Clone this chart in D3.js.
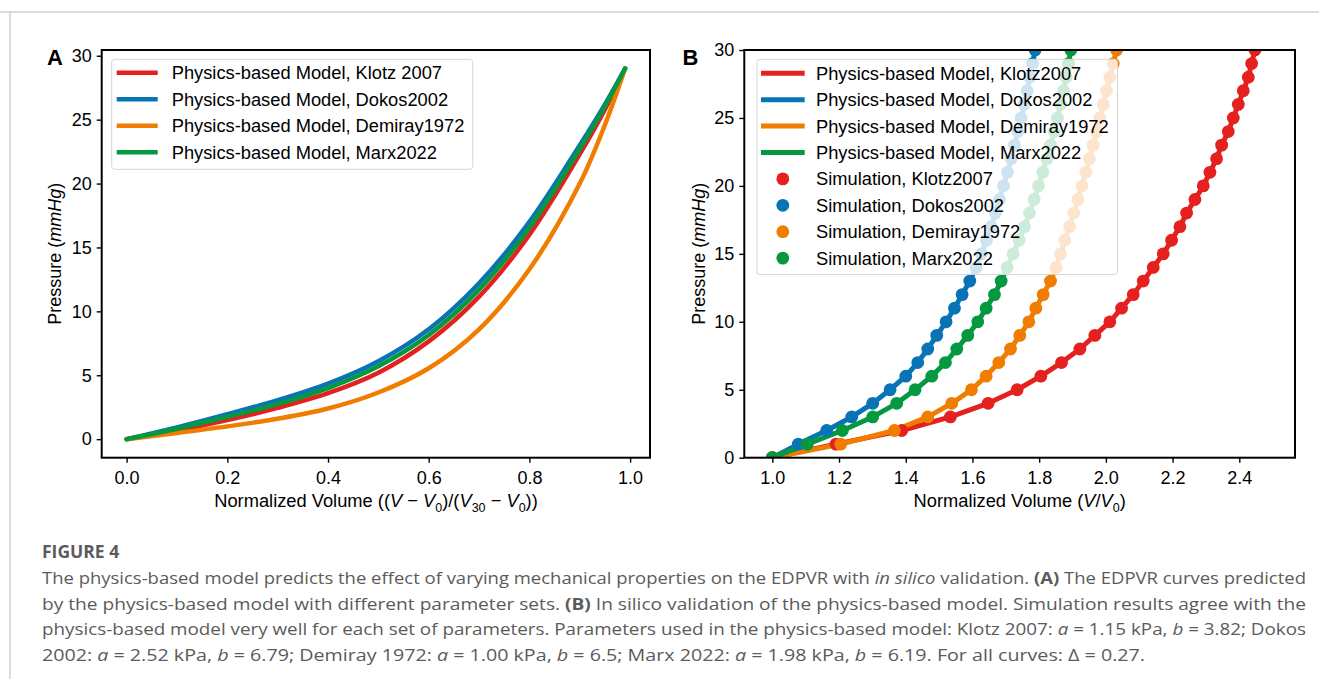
<!DOCTYPE html>
<html>
<head>
<meta charset="utf-8">
<script src="https://cdn.jsdelivr.net/npm/d3@7/dist/d3.min.js"></script>
<style>
  html, body { margin: 0; padding: 0; background: #fff; }
  svg { display: block; }
</style>
</head>
<body>
<svg id="fig" width="1319" height="679"></svg>
<script>
"use strict";

// Panel A: normalized volume vs pressure (model curves)
const normVol = [0, 0.1, 0.2, 0.3, 0.4, 0.5, 0.6, 0.7, 0.8, 0.9, 0.95, 0.99];
const modelKlotz   = [0, 0.68, 1.5, 2.45, 3.6, 5.2, 7.65, 11.15, 16.0, 22.3, 25.8, 29.0];
const modelDokos   = [0, 0.92, 1.95, 3.05, 4.35, 6.1, 8.6, 12.2, 17.0, 23.0, 26.2, 29.0];
const modelDemiray = [0, 0.48, 1.0, 1.6, 2.4, 3.65, 5.55, 8.6, 13.3, 20.0, 24.6, 29.0];
const modelMarx    = [0, 0.82, 1.75, 2.75, 4.0, 5.7, 8.15, 11.7, 16.55, 22.7, 26.05, 29.0];

// Panel B: simulated pressure steps and V/V0
const pressureSteps = d3.range(0, 31);
const simKlotz = [1.0, 1.191, 1.388, 1.534, 1.647, 1.734, 1.805, 1.867, 1.922, 1.967, 2.012,
  2.047, 2.082, 2.112, 2.142, 2.172, 2.197, 2.222, 2.242, 2.267, 2.292,
  2.312, 2.332, 2.347, 2.367, 2.382, 2.397, 2.412, 2.427, 2.437, 2.447];
const simDokos = [1.0, 1.078, 1.163, 1.238, 1.301, 1.353, 1.400, 1.436, 1.466, 1.493, 1.521,
  1.546, 1.569, 1.592, 1.611, 1.627, 1.642, 1.656, 1.669, 1.681, 1.693,
  1.705, 1.716, 1.726, 1.736, 1.746, 1.755, 1.764, 1.772, 1.780, 1.788];
const simDemiray = [1.0, 1.205, 1.366, 1.466, 1.538, 1.597, 1.641, 1.679, 1.714, 1.742, 1.769,
  1.790, 1.812, 1.834, 1.851, 1.864, 1.877, 1.891, 1.904, 1.916, 1.928,
  1.940, 1.951, 1.962, 1.972, 1.982, 1.992, 2.002, 2.012, 2.022, 2.032];
const simMarx = [1.0, 1.105, 1.210, 1.301, 1.373, 1.428, 1.478, 1.519, 1.553, 1.586, 1.616,
  1.641, 1.666, 1.686, 1.704, 1.722, 1.740, 1.756, 1.771, 1.785, 1.798,
  1.811, 1.823, 1.834, 1.845, 1.855, 1.864, 1.873, 1.881, 1.888, 1.895];

const seriesNames = ['Klotz', 'Dokos', 'Demiray', 'Marx'];
const legendA = ['Physics-based Model, Klotz 2007', 'Physics-based Model, Dokos2002',
  'Physics-based Model, Demiray1972', 'Physics-based Model, Marx2022'];
const legendB = ['Physics-based Model, Klotz2007', 'Physics-based Model, Dokos2002',
  'Physics-based Model, Demiray1972', 'Physics-based Model, Marx2022',
  'Simulation, Klotz2007', 'Simulation, Dokos2002', 'Simulation, Demiray1972', 'Simulation, Marx2022'];
const ticksAx = [0, 0.2, 0.4, 0.6, 0.8, 1.0];
const ticksBx = [1.0, 1.2, 1.4, 1.6, 1.8, 2.0, 2.2, 2.4];
const ticksY = [0, 5, 10, 15, 20, 25, 30];

const colors = { Klotz: '#e4211f', Dokos: '#0873b5', Demiray: '#f07c00', Marx: '#04993f' };
const modelA = { Klotz: modelKlotz, Dokos: modelDokos, Demiray: modelDemiray, Marx: modelMarx };
const simB = { Klotz: simKlotz, Dokos: simDokos, Demiray: simDemiray, Marx: simMarx };

const FONT = "'Liberation Sans', Arial, sans-serif";
const svg = d3.select('#fig');

// card border
svg.append('line').attr('x1', 0).attr('x2', 1319).attr('y1', 12).attr('y2', 12)
  .attr('stroke', '#cfcfcf').attr('stroke-width', 1.5);
svg.append('line').attr('x1', 10).attr('x2', 10).attr('y1', 12).attr('y2', 679)
  .attr('stroke', '#cfcfcf').attr('stroke-width', 1.5);

function frame(x0, x1, y0, y1, id) {
  svg.append('clipPath').attr('id', id).append('rect')
    .attr('x', x0).attr('y', y0).attr('width', x1 - x0).attr('height', y1 - y0);
}

function drawAxes(g, x, y, xTicks, xFmt) {
  const xa = g.append('g').attr('transform', 'translate(0,' + y.range()[0] + ')')
    .call(d3.axisBottom(x).tickValues(xTicks).tickFormat(xFmt).tickSize(5).tickPadding(9));
  const ya = g.append('g').attr('transform', 'translate(' + x.range()[0] + ',0)')
    .call(d3.axisLeft(y).tickValues(ticksY).tickFormat(d3.format('d')).tickSize(5).tickPadding(5));
  [xa, ya].forEach(a => {
    a.select('.domain').remove();
    a.attr('font-family', FONT).attr('font-size', 18);
    a.selectAll('.tick line').attr('stroke', '#000').attr('stroke-width', 1.4);
    a.selectAll('.tick text').attr('fill', '#000');
  });
  g.append('rect')
    .attr('x', x.range()[0]).attr('y', y.range()[1])
    .attr('width', x.range()[1] - x.range()[0]).attr('height', y.range()[0] - y.range()[1])
    .attr('fill', 'none').attr('stroke', '#000').attr('stroke-width', 2);
}

function yLabel(g, xPos, yPos) {
  const t = g.append('text')
    .attr('transform', 'translate(' + xPos + ',' + yPos + ') rotate(-90)')
    .attr('text-anchor', 'middle').attr('font-family', FONT).attr('font-size', '18px');
  t.append('tspan').text('Pressure (');
  t.append('tspan').attr('font-style', 'italic').text('mmHg');
  t.append('tspan').text(')');
}

function legendBox(g, x0, y0, w, h) {
  g.append('rect').attr('x', x0).attr('y', y0).attr('width', w).attr('height', h)
    .attr('rx', 3).attr('fill', '#fff').attr('fill-opacity', 0.8)
    .attr('stroke', '#d6d6d6').attr('stroke-width', 1);
}

function subLabel(t, parts) {
  parts.forEach(([s, st]) => {
    const ts = t.append('tspan').text(s);
    if (st === 'i') ts.attr('font-style', 'italic');
    if (st === 'sub') ts.attr('font-size', '12.5px').attr('dy', 4.5);
    if (st === 'up') ts.attr('dy', -4.5);
  });
}

// ---------- Panel A ----------
const xA = d3.scaleLinear().domain([-0.0495, 1.0395]).range([101.7, 650]);
const yA = d3.scaleLinear().domain([-1.45, 30.45]).range([457.7, 50]);
const gA = svg.append('g');
frame(101.7, 650, 50, 457.7, 'clipA');

const lineA = d3.line().x((d, i) => xA(normVol[i])).y(d => yA(d)).curve(d3.curveCatmullRom.alpha(0.5));
gA.append('g').attr('clip-path', 'url(#clipA)').selectAll('path')
  .data(seriesNames).enter().append('path')
  .attr('d', n => lineA(modelA[n]))
  .attr('fill', 'none').attr('stroke', n => colors[n]).attr('stroke-width', 4.5)
  .attr('stroke-linecap', 'round');

drawAxes(gA, xA, yA, ticksAx, d3.format('.1f'));

legendBox(gA, 111.7, 59.3, 361, 110);
legendA.forEach((label, i) => {
  const yy = 72.7 + i * 26.5;
  gA.append('line').attr('x1', 116.7).attr('x2', 157.7).attr('y1', yy).attr('y2', yy)
    .attr('stroke', colors[seriesNames[i]]).attr('stroke-width', 4.5);
  gA.append('text').attr('x', 171.7).attr('y', yy).attr('dy', '0.35em')
    .attr('font-family', FONT).attr('font-size', '18.3px').text(label);
});

yLabel(gA, 61, 253.8);
const xlA = gA.append('text').attr('x', 376).attr('y', 507).attr('text-anchor', 'middle')
  .attr('font-family', FONT).attr('font-size', '18.3px');
subLabel(xlA, [['Normalized Volume ((', ''], ['V', 'i'], [' \u2212 ', ''], ['V', 'i'], ['0', 'sub'],
  [')/(', 'up'], ['V', 'i'], ['30', 'sub'], [' \u2212 ', 'up'], ['V', 'i'], ['0', 'sub'], ['))', 'up']]);

svg.append('text').attr('x', 47).attr('y', 64.5).attr('font-family', FONT)
  .attr('font-weight', 'bold').attr('font-size', '22px').text('A');

// ---------- Panel B ----------
const xB = d3.scaleLinear().domain([0.916, 2.567]).range([744.3, 1295]);
const yB = d3.scaleLinear().domain([0, 30]).range([457.7, 50]);
const gB = svg.append('g');
frame(744.3, 1295, 50, 457.7, 'clipB');

const lineB = d3.line().x(d => xB(d)).y((d, i) => yB(pressureSteps[i]));
const plotB = gB.append('g').attr('clip-path', 'url(#clipB)');
plotB.selectAll('path').data(seriesNames).enter().append('path')
  .attr('d', n => lineB(simB[n]))
  .attr('fill', 'none').attr('stroke', n => colors[n]).attr('stroke-width', 5)
  .attr('stroke-linejoin', 'round');
seriesNames.forEach(n => {
  plotB.append('g').selectAll('circle').data(simB[n]).enter().append('circle')
    .attr('cx', d => xB(d)).attr('cy', (d, i) => yB(pressureSteps[i]))
    .attr('r', 6.4).attr('fill', colors[n]);
});

drawAxes(gB, xB, yB, ticksBx, d3.format('.1f'));

legendBox(gB, 757, 59.3, 360.5, 215.2);
legendB.forEach((label, i) => {
  const yy = 73.3 + i * 26.4;
  const c = colors[seriesNames[i % 4]];
  if (i < 4) {
    gB.append('line').attr('x1', 761).attr('x2', 804.7).attr('y1', yy).attr('y2', yy)
      .attr('stroke', c).attr('stroke-width', 5);
  } else {
    gB.append('circle').attr('cx', 782.8).attr('cy', yy).attr('r', 6.4).attr('fill', c);
  }
  gB.append('text').attr('x', 816).attr('y', yy).attr('dy', '0.35em')
    .attr('font-family', FONT).attr('font-size', '18.3px').text(label);
});

yLabel(gB, 705, 253.8);
const xlB = gB.append('text').attr('x', 1019.7).attr('y', 507).attr('text-anchor', 'middle')
  .attr('font-family', FONT).attr('font-size', '18.3px');
subLabel(xlB, [['Normalized Volume (', ''], ['V', 'i'], ['/', ''], ['V', 'i'], ['0', 'sub'], [')', 'up']]);

svg.append('text').attr('x', 682.5).attr('y', 64.5).attr('font-family', FONT)
  .attr('font-weight', 'bold').attr('font-size', '22px').text('B');

// ---------- Caption ----------
const CAP = "'Open Sans', 'Noto Sans', sans-serif";
const capColor = '#5b5b5b';
svg.append('text').attr('x', 42).attr('y', 558).attr('font-family', CAP)
  .attr('font-weight', 'bold').attr('font-size', '17.5px').attr('fill', capColor).text('FIGURE 4');

const capLines = [
  [['The physics-based model predicts the effect of varying mechanical properties on the EDPVR with ', ''],
   ['in silico', 'i'], [' validation. ', ''], ['(A)', 'b'], [' The EDPVR curves predicted', '']],
  [['by the physics-based model with different parameter sets. ', ''], ['(B)', 'b'],
   [' In silico validation of the physics-based model. Simulation results agree with the', '']],
  [['physics-based model very well for each set of parameters. Parameters used in the physics-based model: Klotz 2007: ', ''],
   ['a', 'i'], [' = 1.15 kPa, ', ''], ['b', 'i'], [' = 3.82; Dokos', '']],
  [['2002: ', ''], ['a', 'i'], [' = 2.52 kPa, ', ''], ['b', 'i'], [' = 6.79; Demiray 1972: ', ''],
   ['a', 'i'], [' = 1.00 kPa, ', ''], ['b', 'i'], [' = 6.5; Marx 2022: ', ''], ['a', 'i'],
   [' = 1.98 kPa, ', ''], ['b', 'i'], [' = 6.19. For all curves: \u0394 = 0.27.', '']]
];
const capWidths = [1264, 1264, 1264, 1103];
capLines.forEach((parts, i) => {
  const t = svg.append('text').attr('x', 42).attr('y', 584 + i * 25.6)
    .attr('font-family', CAP).attr('font-size', '15.8px').attr('fill', capColor)
    .attr('textLength', capWidths[i]).attr('lengthAdjust', 'spacingAndGlyphs');
  parts.forEach(([s, st]) => {
    const ts = t.append('tspan').text(s);
    if (st === 'i') ts.attr('font-style', 'italic');
    if (st === 'b') ts.attr('font-weight', 'bold');
  });
});
</script>
</body>
</html>
